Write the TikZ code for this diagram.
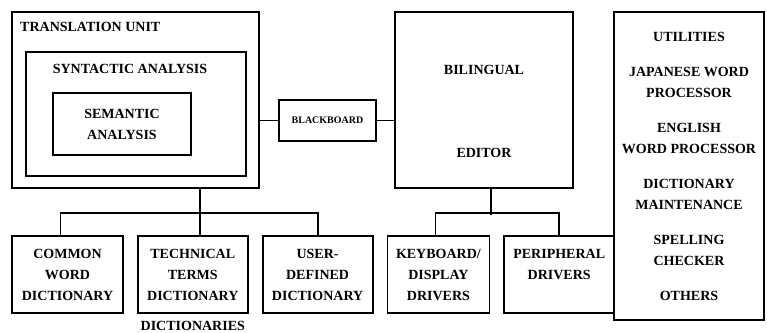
\documentclass[tikz,border=0pt]{standalone}
\usepackage{fontspec}
\setmainfont{Liberation Serif}
\usepackage{tikz}
\usetikzlibrary{positioning, calc}
\tikzstyle{line} = [line width=1.8pt]
\tikzstyle{block} = [rectangle, draw=black, line width=1.8pt, align=center, inner sep=0pt, font=\bfseries\fontsize{14}{21}\selectfont]
\tikzstyle{txt} = [align=center, inner sep=0pt, font=\bfseries\fontsize{14}{21}\selectfont]

\begin{document}
\begin{tikzpicture}[x=1pt, y=-1pt]
    \useasboundingbox (0,0) rectangle (767,332);

    % Unidad de traduccion
    \node (tu) [block, minimum width=247pt, minimum height=176pt] at (135.5,100) {};
    \node (tuname) [txt, anchor=west] at (20,27) {TRANSLATION UNIT};
    \node (syn) [block, minimum width=220pt, minimum height=124pt] at (136,114) {};
    \node (synname) [txt] at (130,69) {SYNTACTIC ANALYSIS};
    \node (sem) [block, minimum width=138pt, minimum height=62pt] at (122,124) {SEMANTIC\\ANALYSIS};

    % Blackboard y editor
    \node (bb) [block, minimum width=97pt, minimum height=41pt, font=\bfseries\fontsize{10}{12}\selectfont] at (327.5,120.5) {BLACKBOARD};
    \node (ed) [block, minimum width=178pt, minimum height=176pt] at (484,100) {};
    \node (edname) [txt] at (484,70) {BILINGUAL};
    \node (edname2) [txt] at (484,153) {EDITOR};

    % Utilidades
    \node (util) [block, minimum width=150pt, minimum height=308pt] at (689,166) {};
    \node (utiltext) [txt] at (689,166.5) {UTILITIES\\[14pt]JAPANESE WORD\\PROCESSOR\\[14pt]ENGLISH\\WORD PROCESSOR\\[14pt]DICTIONARY\\MAINTENANCE\\[14pt]SPELLING\\CHECKER\\[14pt]OTHERS};

    % Diccionarios y drivers
    \node (cwd) [block, minimum width=111pt, minimum height=77pt] at (67.5,274.5) {COMMON\\WORD\\DICTIONARY};
    \node (ttd) [block, right=13pt of cwd, minimum width=110pt, minimum height=77pt] {TECHNICAL\\TERMS\\DICTIONARY};
    \node (udd) [block, right=13pt of ttd, minimum width=110pt, minimum height=77pt] {USER-\\DEFINED\\DICTIONARY};
    \node (kdd) [block, right=13pt of udd, minimum width=102pt, minimum height=77pt] {KEYBOARD/\\DISPLAY\\DRIVERS};
    \node (pd) [block, right=13pt of kdd, minimum width=110pt, minimum height=77pt] {PERIPHERAL\\DRIVERS\\\phantom{X}};
    \node (dicts) [txt, anchor=north, yshift=-7pt] at (ttd.south) {DICTIONARIES};

    % Conexiones
    \draw [line] (bb.west) -- (bb.west -| tu.east);
    \draw [line] (bb.east) -- (bb.east -| ed.west);
    \draw [line] ([xshift=7pt]ttd.north |- tu.south) -- ([xshift=7pt]ttd.north);
    \draw [line] ([xshift=-7pt]cwd.north) -- ++(0,-22) -| (udd.north);
    \draw [line] ([xshift=7pt]ed.south) -- ++(0,26);
    \draw [line] ([xshift=-3pt]kdd.north) -- ++(0,-22) -| (pd.north);
\end{tikzpicture}
\end{document}
